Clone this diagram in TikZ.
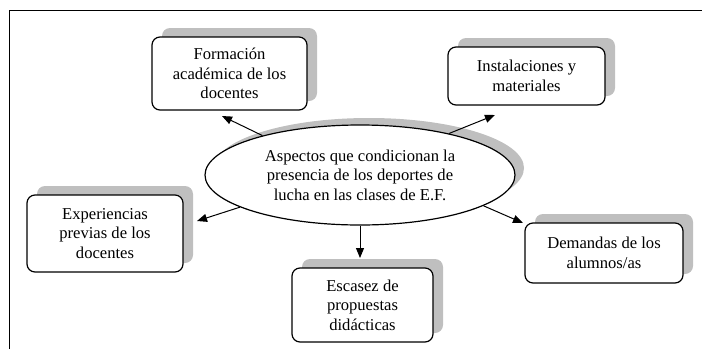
\documentclass[tikz,border=0pt]{standalone}
\usepackage{fontspec}
\setmainfont{Liberation Serif}
\usepackage{tikz}
\usetikzlibrary{arrows.meta,shapes.geometric,shadows}

\begin{document}
\begin{tikzpicture}[
  x=1pt, y=-1pt,
  every node/.style={font=\fontsize{16.6}{19.5}\selectfont, align=center},
  factor/.style={draw, line width=1.2pt, rounded corners=8pt, fill=white, inner sep=0pt,
    drop shadow={shadow xshift=10pt, shadow yshift=9pt, fill=gray!50, opacity=1}},
  core/.style={ellipse, draw, line width=1.2pt, fill=white, inner sep=0pt,
    minimum width=310pt, minimum height=100pt,
    drop shadow={shadow xshift=9pt, shadow yshift=7pt, fill=gray!50, opacity=1}},
  arr/.style={line width=1pt, -{Triangle[length=10pt,width=8pt]}}
]
\useasboundingbox (0,0) rectangle (702,349);

% ------------------------------------------------------------
% Frame (top and left edges only)
% ------------------------------------------------------------
\draw[line width=1.5pt] (9.5,349) -- (9.5,10.5) -- (702,10.5);

% ------------------------------------------------------------
% Central ellipse
% ------------------------------------------------------------
\node[core] (main) at (360,175)
  {Aspectos que condicionan la\\ presencia de los deportes de\\ lucha en las clases de E.F.};

% ------------------------------------------------------------
% Surrounding factors
% ------------------------------------------------------------
\node[factor, minimum width=155pt, minimum height=73pt] (form) at (229.5,73.5)
  {Formación\\ académica de los\\ docentes};
\node[factor, minimum width=157pt, minimum height=58pt] (inst) at (526.5,76)
  {Instalaciones y\\ materiales};
\node[factor, minimum width=156pt, minimum height=77pt] (expe) at (105,233.5)
  {Experiencias\\ previas de los\\ docentes};
\node[factor, minimum width=141pt, minimum height=74pt] (esca) at (362.5,305)
  {Escasez de\\ propuestas\\ didácticas};
\node[factor, minimum width=158pt, minimum height=60pt] (dema) at (604,253)
  {Demandas de los\\ alumnos/as};

% ------------------------------------------------------------
% Arrow tips (arrows stop short of the boxes)
% ------------------------------------------------------------
\coordinate (tform) at (222,116);
\coordinate (tinst) at (495,115);
\coordinate (texpe) at (197,221);
\coordinate (tesca) at (360,258);
\coordinate (tdema) at (523,223);

\draw[arr] (main.158) -- (tform);
\draw[arr] (main.25)  -- (tinst);
\draw[arr] (main.195) -- (texpe);
\draw[arr] (main.south) -- (tesca);
\draw[arr] (main.346) -- (tdema);

\end{tikzpicture}
\end{document}
